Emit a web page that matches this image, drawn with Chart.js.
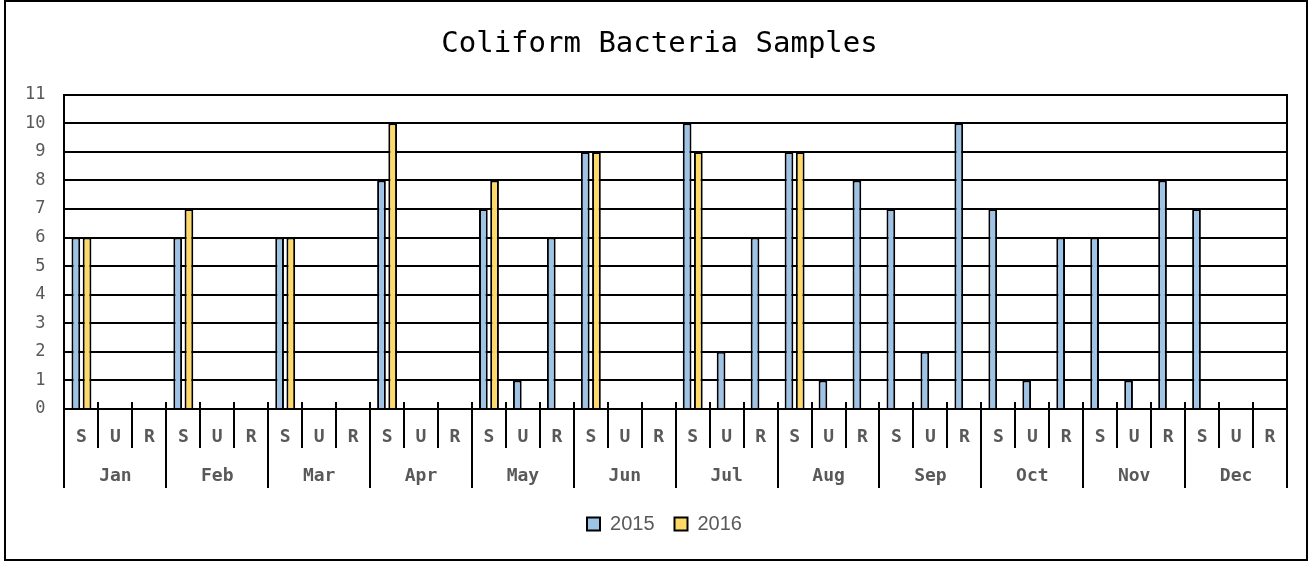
<!DOCTYPE html>
<html>
<head>
<meta charset="utf-8">
<title>Coliform Bacteria Samples</title>
<script src="https://cdn.jsdelivr.net/npm/chart.js@4/dist/chart.umd.min.js"></script>
<style>
  html, body { margin: 0; padding: 0; background: #fff; }
  #wrap { position: relative; width: 1310px; height: 561px; }
  #frame { position: absolute; left: 4px; top: 0; width: 1304px; height: 561px;
           border: 2px solid #000; box-sizing: border-box; pointer-events: none; }
</style>
</head>
<body>
<div id="wrap">
  <canvas id="myChart" width="1310" height="561"></canvas>
  <div id="frame"></div>
</div>
<script>
// categories
const months = ['Jan', 'Feb', 'Mar', 'Apr', 'May', 'Jun', 'Jul', 'Aug', 'Sep', 'Oct', 'Nov', 'Dec'];
const sampleTypes = ['S', 'U', 'R'];

// one value per month x sample type (S, U, R), null = no bar
const values2015 = [
  6, null, null,   // Jan
  6, null, null,   // Feb
  6, null, null,   // Mar
  8, null, null,   // Apr
  7, 1, 6,         // May
  9, null, null,   // Jun
  10, 2, 6,        // Jul
  9, 1, 8,         // Aug
  7, 2, 10,        // Sep
  7, 1, 6,         // Oct
  6, 1, 8,         // Nov
  7, null, null    // Dec
];
const values2016 = [
  6, null, null,
  7, null, null,
  6, null, null,
  10, null, null,
  8, null, null,
  9, null, null,
  9, null, null,
  9, null, null,
  null, null, null,
  null, null, null,
  null, null, null,
  null, null, null
];
const yTicks = [0, 1, 2, 3, 4, 5, 6, 7, 8, 9, 10, 11];

// inner axis labels: S U R repeated per month
const subLabels = [];
months.forEach(() => sampleTypes.forEach(t => subLabels.push(t)));

const mono = "'DejaVu Sans Mono', 'Liberation Mono', monospace";
const grey = '#595959';

const data = {
  labels: subLabels,
  datasets: [
    {
      label: '2015',
      data: values2015,
      backgroundColor: '#9DC3E6',
      borderColor: '#000000',
      borderWidth: 2,
      categoryPercentage: 0.66,
      barPercentage: 0.78
    },
    {
      label: '2016',
      data: values2016,
      backgroundColor: '#FFD966',
      borderColor: '#000000',
      borderWidth: 2,
      categoryPercentage: 0.66,
      barPercentage: 0.78
    }
  ]
};

// short tick marks that cross the category axis upward (Excel style)
const crossTicks = {
  id: 'crossTicks',
  afterDraw(chart) {
    const x = chart.scales.x;
    const ctx = chart.ctx;
    ctx.save();
    ctx.strokeStyle = '#000';
    ctx.lineWidth = 2;
    ctx.beginPath();
    for (let i = 0; i <= x.ticks.length; i++) {
      const px = Math.round(x.getPixelForValue(i - 0.5));
      ctx.moveTo(px, x.top - 7);
      ctx.lineTo(px, x.top);
    }
    ctx.stroke();
    ctx.restore();
  }
};

// title and legend sit a little right of centre in the original
const nudgeBoxes = {
  id: 'nudgeBoxes',
  afterLayout(chart) {
    const t = chart.titleBlock;
    if (t) { t.left += 13; t.right += 13; }
    const l = chart.legend;
    if (l) { l.left += 18; l.right += 18; }
  }
};

const config = {
  type: 'bar',
  data: data,
  plugins: [crossTicks, nudgeBoxes],
  options: {
    responsive: false,
    animation: false,
    layout: { padding: { left: 6, right: 23, top: 0, bottom: 17 } },
    plugins: {
      title: {
        display: true,
        text: 'Coliform Bacteria Samples',
        color: '#000',
        font: { family: mono, size: 29, weight: 'normal' },
        padding: { top: 27, bottom: 33 }
      },
      legend: {
        position: 'bottom',
        labels: {
          boxWidth: 13,
          boxHeight: 13,
          padding: 20,
          color: grey,
          font: { family: "'Liberation Sans', Arial, sans-serif", size: 20 }
        }
      },
      tooltip: { enabled: false }
    },
    scales: {
      x: {
        position: 'bottom',
        grid: {
          offset: true,
          drawOnChartArea: false,
          drawTicks: true,
          tickLength: 39,
          color: '#000',
          lineWidth: 2
        },
        border: { display: true, color: '#000', width: 2 },
        ticks: {
          autoSkip: false,
          maxRotation: 0,
          padding: -21,
          color: grey,
          font: { family: mono, size: 18, weight: 'bold' }
        },
        afterFit: scale => { scale.height = 39; }
      },
      x2: {
        type: 'category',
        position: 'bottom',
        labels: months,
        grid: {
          offset: true,
          drawOnChartArea: false,
          drawTicks: true,
          tickLength: 40,
          color: '#000',
          lineWidth: 2
        },
        border: { display: false },
        ticks: {
          autoSkip: false,
          maxRotation: 0,
          padding: -22,
          color: grey,
          font: { family: mono, size: 18, weight: 'bold' }
        },
        afterFit: scale => { scale.height = 46; }
      },
      y: {
        min: yTicks[0],
        max: yTicks[yTicks.length - 1],
        grid: { color: '#000', lineWidth: 2, drawTicks: false },
        border: { display: true, color: '#000', width: 2 },
        ticks: {
          stepSize: 1,
          padding: 19,
          color: grey,
          font: { family: mono, size: 17 }
        }
      },
      yR: {
        position: 'right',
        display: true,
        grid: { drawOnChartArea: false, drawTicks: false },
        border: { display: true, color: '#000', width: 2 },
        ticks: { display: false }
      }
    }
  }
};

const myChart = new Chart(document.getElementById('myChart'), config);
</script>
</body>
</html>
